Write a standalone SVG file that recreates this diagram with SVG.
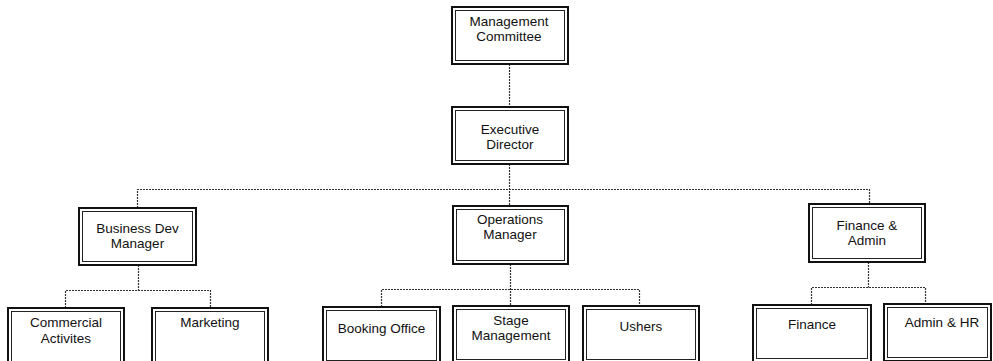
<svg xmlns="http://www.w3.org/2000/svg" width="993" height="361" viewBox="0 0 993 361">
<style>
.o{fill:#fff;stroke:#111;stroke-width:2}
.i{fill:none;stroke:#222;stroke-width:1}
.t{font-family:"Liberation Sans",Arial,sans-serif;font-size:13.5px;fill:#111;text-anchor:middle}
.c{fill:none;stroke:#333;stroke-width:1.2;stroke-dasharray:2 1}
</style>
<rect width="993" height="361" fill="#fff"/>
<g id="connectors">
<path class="c" d="M509.5 64V107"/>
<path class="c" d="M509.5 164V206"/>
<path class="c" d="M137.5 208V189.5H869.5V204"/>
<path class="c" d="M138.5 265V290.5"/>
<path class="c" d="M65.5 308V290.5H210.5V308"/>
<path class="c" d="M510.5 264V306"/>
<path class="c" d="M381.5 307V289.5H639.5V306"/>
<path class="c" d="M868.5 262V287.5"/>
<path class="c" d="M811.5 305V287.5H925.5V304"/>
</g>
<g id="management-committee">
<rect class="o" x="452" y="7" width="116" height="57"/><rect class="i" x="455.5" y="10.5" width="109" height="50"/>
<text class="t" x="509" y="26">Management</text><text class="t" x="509" y="41">Committee</text>
</g>
<g id="executive-director">
<rect class="o" x="452" y="107" width="116" height="57"/><rect class="i" x="455.5" y="110.5" width="109" height="50"/>
<text class="t" x="510" y="134">Executive</text><text class="t" x="510" y="149">Director</text>
</g>
<g id="business-dev-manager">
<rect class="o" x="79" y="208" width="117" height="57"/><rect class="i" x="82.5" y="211.5" width="110" height="50"/>
<text class="t" x="137.5" y="233">Business Dev</text><text class="t" x="137.5" y="248">Manager</text>
</g>
<g id="operations-manager">
<rect class="o" x="453" y="206" width="115" height="58"/><rect class="i" x="456.5" y="209.5" width="108" height="51"/>
<text class="t" x="510" y="224">Operations</text><text class="t" x="510" y="239">Manager</text>
</g>
<g id="finance-admin">
<rect class="o" x="809" y="204" width="116" height="58"/><rect class="i" x="812.5" y="207.5" width="109" height="51"/>
<text class="t" x="867" y="230">Finance &amp;</text><text class="t" x="867" y="245">Admin</text>
</g>
<g id="commercial-activites">
<rect class="o" x="8" y="308" width="116" height="57"/><rect class="i" x="11.5" y="311.5" width="109" height="50"/>
<text class="t" x="66" y="327">Commercial</text><text class="t" x="66" y="343">Activites</text>
</g>
<g id="marketing">
<rect class="o" x="152" y="308" width="116" height="57"/><rect class="i" x="155.5" y="311.5" width="109" height="50"/>
<text class="t" x="210" y="327">Marketing</text>
</g>
<g id="booking-office">
<rect class="o" x="323" y="307" width="117" height="57"/><rect class="i" x="326.5" y="310.5" width="110" height="50"/>
<text class="t" x="381.5" y="333">Booking Office</text>
</g>
<g id="stage-management">
<rect class="o" x="453" y="306" width="116" height="57"/><rect class="i" x="456.5" y="309.5" width="109" height="50"/>
<text class="t" x="511" y="325">Stage</text><text class="t" x="511" y="340">Management</text>
</g>
<g id="ushers">
<rect class="o" x="583" y="306" width="116" height="57"/><rect class="i" x="586.5" y="309.5" width="109" height="50"/>
<text class="t" x="641" y="331">Ushers</text>
</g>
<g id="finance">
<rect class="o" x="753" y="305" width="118" height="57"/><rect class="i" x="756.5" y="308.5" width="111" height="50"/>
<text class="t" x="812" y="329">Finance</text>
</g>
<g id="admin-hr">
<rect class="o" x="884" y="304" width="107" height="57"/><rect class="i" x="887.5" y="307.5" width="100" height="50"/>
<text class="t" x="942" y="327">Admin &amp; HR</text>
</g>
</svg>
